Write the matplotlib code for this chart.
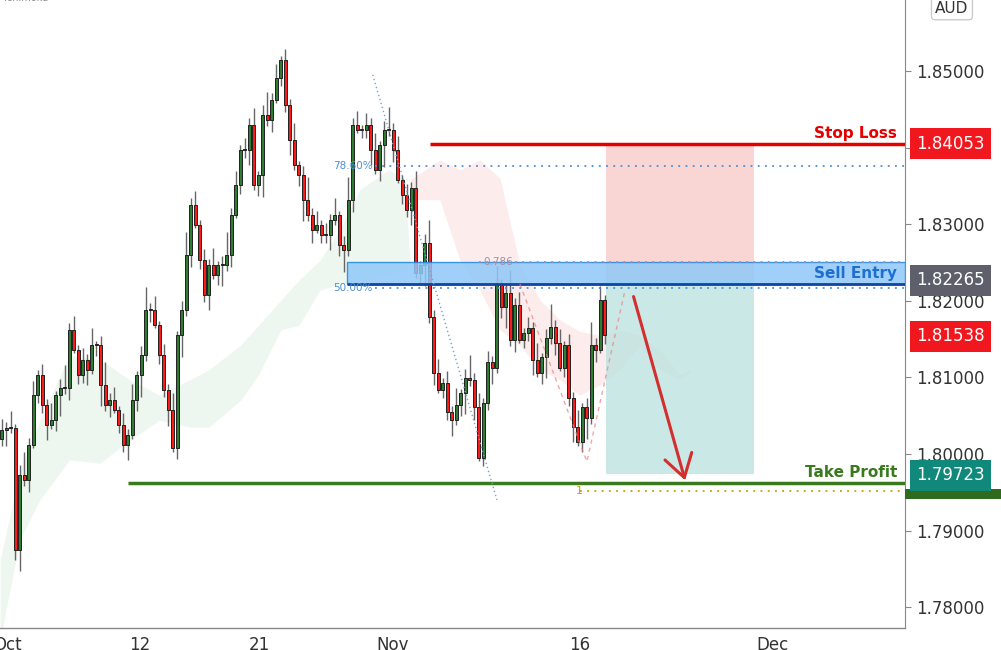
"""AUD pair sell setup chart with candles, ichimoku cloud and trade levels."""

import matplotlib.pyplot as plt
from matplotlib.patches import Rectangle, FancyArrowPatch

# closes, one per bar
CLOSES = [
    1.8031, 1.8034, 1.8034, 1.7875, 1.7973, 1.7966, 1.8012, 1.8077, 1.8103, 1.8064,
    1.8038, 1.8044, 1.8077, 1.8086, 1.8086, 1.8162, 1.8136, 1.8103, 1.8123, 1.8110,
    1.8142, 1.8142, 1.8090, 1.8064, 1.8070, 1.8057, 1.8038, 1.8012, 1.8025, 1.8070,
    1.8103, 1.8129, 1.8188, 1.8188, 1.8168, 1.8129, 1.8084, 1.8057, 1.8008,
    1.8155, 1.8188, 1.8260, 1.8325, 1.8299, 1.8253, 1.8208, 1.8247, 1.8234, 1.8247,
    1.8247, 1.8260, 1.8312, 1.8351, 1.8397, 1.8397, 1.8430, 1.8351, 1.8364, 1.8443,
    1.8436, 1.8462, 1.8491, 1.8514, 1.8456, 1.8410, 1.8377, 1.8364, 1.8332, 1.8312,
    1.8292, 1.8299, 1.8286, 1.8286, 1.8305, 1.8312, 1.8273, 1.8266, 1.8332,
    1.8430, 1.8423, 1.8423, 1.8430, 1.8397, 1.8371, 1.8403, 1.8423, 1.8423, 1.8397,
    1.8358, 1.8338, 1.8319,
    1.8347, 1.8236, 1.8247, 1.8275, 1.8179, 1.8106, 1.8084, 1.8093, 1.8055, 1.8044,
    1.8064, 1.8080, 1.8099, 1.8097, 1.8061, 1.7995, 1.8067, 1.8120, 1.8112, 1.8223,
    1.8192, 1.8210, 1.8149, 1.8194, 1.8149, 1.8158, 1.8164, 1.8123, 1.8106, 1.8127,
    1.8151, 1.8166, 1.8145, 1.8112, 1.8142, 1.8073, 1.8035, 1.8016, 1.8061, 1.8047,
    1.8142, 1.8136, 1.8201, 1.8155,
]
FIRST_OPEN = 1.8020
WICK_UP = [0.0015, 0.0008, 0.0022, 0.0005, 0.0012, 0.0030, 0.0009, 0.0018, 0.0006]
WICK_DN = [0.0010, 0.0020, 0.0006, 0.0014, 0.0028, 0.0008, 0.0016, 0.0004, 0.0011]

GREEN_X = [-0.4, 4, 8.4, 15, 21.8, 28.4, 35, 41.8, 46, 53, 57, 62, 66, 70.7, 75,
           79.5, 86, 89.5, 90.7]
GREEN_TOP = [1.7862, 1.7979, 1.8044, 1.8129, 1.8123, 1.8097, 1.8077, 1.8097, 1.8110,
             1.8142, 1.8168, 1.8201, 1.8227, 1.8253, 1.8292, 1.8345, 1.8371, 1.8358,
             1.8253]
GREEN_BOT = [1.7757, 1.7888, 1.7940, 1.7992, 1.7988, 1.8018, 1.8044, 1.8035, 1.8035,
             1.8070, 1.8103, 1.8162, 1.8168, 1.8214, 1.8221, 1.8227, 1.8234, 1.8240,
             1.8253]
PINK_X = [90.7, 97.3, 101.8, 106.2, 110.7, 115.1, 119.6, 124, 128.4, 132.9, 137.3,
          141.8, 146.2, 150.7, 152.9]
PINK_TOP = [1.8358, 1.8384, 1.8371, 1.8384, 1.8360, 1.8247, 1.8201, 1.8175, 1.8160,
            1.8155, 1.8162, 1.8155, 1.8136, 1.8103, 1.8110]
PINK_BOT = [1.8332, 1.8332, 1.8253, 1.8214, 1.8162, 1.8142, 1.8110, 1.8097, 1.8077,
            1.8090, 1.8110, 1.8142, 1.8110, 1.8097, 1.8107]

STOP_LOSS = 1.84053
SELL_ENTRY = 1.82265
TAKE_PROFIT = 1.79723
LAST_PRICE = 1.81538
FIB_786 = 1.8376
FIB_50 = 1.8217
ZONE = (1.8222, 1.8250)
TP_LINE = 1.7962
FIB_ONE = 1.7952

PRICE_TICKS = [1.78, 1.79, 1.80, 1.81, 1.82, 1.83, 1.84, 1.85]
PRICE_LABELS = ["1.78000", "1.79000", "1.80000", "1.81000", "1.82000", "1.83000",
                "", "1.85000"]
DATE_POS = [1.3, 30.7, 57.3, 86.9, 128.4, 171.3]
DATE_LABELS = ["Oct", "12", "21", "Nov", "16", "Dec"]

XMAX = 200.7


def _draw_candles(axes):
    opens = [FIRST_OPEN] + CLOSES[:-1]
    for i, (o, c) in enumerate(zip(opens, CLOSES)):
        hi = max(o, c) + WICK_UP[i % len(WICK_UP)]
        lo = min(o, c) - WICK_DN[i % len(WICK_DN)]
        axes.vlines(i, lo, hi, color="#666666", linewidth=1, zorder=3)
        color = "#2e7d32" if c >= o else "#ff1a1a"
        axes.add_patch(Rectangle((i - 0.33, min(o, c)), 0.66, max(abs(c - o), 0.00015),
                                 facecolor=color, edgecolor="#202020",
                                 linewidth=0.7, zorder=4))


def _price_box(fig_ax, price, text, color):
    fig_ax.text(1.012, price, text, transform=fig_ax.get_yaxis_transform(),
                ha="left", va="center", fontsize=12, color="white", clip_on=False,
                bbox=dict(boxstyle="square,pad=0.38", facecolor=color,
                          edgecolor="none"), zorder=10)


def main():
    figure = plt.figure(figsize=(10.01, 6.5), dpi=100)
    axes = figure.add_axes([0, 22 / 650, 905 / 1001, 628 / 650])
    axes.set_xlim(-0.44, XMAX)
    axes.set_ylim(1.77728, 1.85927)

    axes.fill_between(GREEN_X, GREEN_BOT, GREEN_TOP, color="#e8f5e9", alpha=0.7,
                      linewidth=0, zorder=1)
    axes.fill_between(PINK_X, PINK_BOT, PINK_TOP, color="#fde4e4", alpha=0.7,
                      linewidth=0, zorder=1)

    # risk / reward boxes
    axes.add_patch(Rectangle((134.2, SELL_ENTRY), 32.9, STOP_LOSS - SELL_ENTRY,
                             facecolor="#f8c9c5", alpha=0.75, linewidth=0, zorder=2))
    axes.add_patch(Rectangle((134.2, 1.7974), 32.9, SELL_ENTRY - 1.7974,
                             facecolor="#b9e2de", alpha=0.75, linewidth=0, zorder=2))

    # sell zone
    axes.add_patch(Rectangle((76.7, ZONE[0]), XMAX - 76.7, ZONE[1] - ZONE[0],
                             facecolor="#90c8f8", edgecolor="#1e88e5", alpha=0.85,
                             linewidth=1, zorder=5))
    axes.hlines(ZONE[0], 76.7, XMAX, color="#0d47a1", linewidth=2, zorder=5)

    _draw_candles(axes)

    axes.hlines(STOP_LOSS, 95.1, XMAX, color="#e50000", linewidth=2.5, zorder=6)
    axes.hlines(TP_LINE, 28, XMAX, color="#3a7a1e", linewidth=2.5, zorder=6)
    axes.hlines(FIB_786, 82.9, XMAX, color="#4a8fd8", linewidth=1.3,
                linestyle=(0, (1, 3)), zorder=6)
    axes.hlines(FIB_50, 82.9, XMAX, color="#4a8fd8", linewidth=1.3,
                linestyle=(0, (1, 3)), zorder=6)
    axes.hlines(ZONE[1], 106, XMAX, color="#9e8fa8", linewidth=1.3,
                linestyle=(0, (1, 3)), zorder=6)
    axes.hlines(FIB_ONE, 128.4, XMAX, color="#c8a000", linewidth=1.3,
                linestyle=(0, (1, 3)), zorder=6)
    axes.plot([82.4, 110], [1.8495, 1.7940], color="#6aa6e0", linewidth=1,
              linestyle=(0, (1, 2)), zorder=6)
    axes.plot([115.1, 130, 138.4], [1.8222, 1.7990, 1.8212], color="#f08080",
              linewidth=1, linestyle=(0, (3, 3)), alpha=0.7, zorder=6)

    axes.text(73.6, FIB_786, "78.60%", color="#4a8fd8", fontsize=7.5,
              va="center", zorder=7)
    axes.text(73.6, FIB_50, "50.00%", color="#4a8fd8", fontsize=7.5,
              va="center", zorder=7)
    axes.text(106.9, ZONE[1], "0.786", color="#9e8fa8", fontsize=7.5,
              va="center", zorder=7)
    axes.text(127.5, FIB_ONE, "1", color="#c8a000", fontsize=8, va="center", zorder=7)

    axes.text(199, STOP_LOSS + 0.0003, "Stop Loss", color="#e50000", fontsize=11,
              fontweight="bold", ha="right", va="bottom", zorder=8)
    axes.text(199, 1.8236, "Sell Entry", color="#1e6fd0", fontsize=11,
              fontweight="bold", ha="right", va="center", zorder=8)
    axes.text(199, TP_LINE + 0.0004, "Take Profit", color="#3a7a1e", fontsize=11,
              fontweight="bold", ha="right", va="bottom", zorder=8)

    axes.add_patch(FancyArrowPatch((140.2, 1.8209), (152, 1.7962),
                                   arrowstyle="->,head_length=8,head_width=5",
                                   color="#d32f2f", linewidth=2.2, zorder=8,
                                   mutation_scale=2))

    axes.text(0.5, 1.8595, "Ichimoku", color="#888888", fontsize=7, va="center")

    # axes styling
    for side in ["top", "left", "bottom"]:
        axes.spines[side].set_visible(False)
    axes.spines["right"].set_color("#888888")
    axes.yaxis.tick_right()
    axes.set_yticks(PRICE_TICKS)
    axes.set_yticklabels(PRICE_LABELS, fontsize=12, color="#333333")
    axes.tick_params(axis="y", length=4, pad=4, color="#888888")
    axes.set_xticks(DATE_POS)
    axes.set_xticklabels(DATE_LABELS, fontsize=12, color="#333333")
    axes.tick_params(axis="x", length=0, pad=6)
    axes.axhline(1.77728, color="#888888", linewidth=1, clip_on=False)

    _price_box(axes, STOP_LOSS, "1.84053", "#f0181e")
    _price_box(axes, SELL_ENTRY, "1.82265", "#5d606b")
    _price_box(axes, LAST_PRICE, "1.81538", "#f0181e")
    _price_box(axes, TAKE_PROFIT, "1.79723", "#10897b")
    axes.add_patch(Rectangle((1.0, 1.7941), 0.11, 0.0013,
                             transform=axes.get_yaxis_transform(),
                             facecolor="#2e6b1e", clip_on=False, zorder=9))
    figure.text(0.951, 0.987, "AUD", fontsize=11, color="#333333", ha="center",
                va="center", bbox=dict(boxstyle="round,pad=0.25", facecolor="white",
                                       edgecolor="#cccccc"))

    figure.savefig("out.png", dpi=100)


if __name__ == "__main__":
    main()
